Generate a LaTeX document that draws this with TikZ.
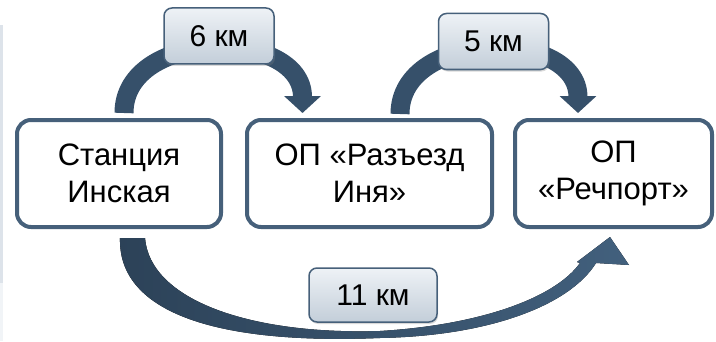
\documentclass[tikz,border=0pt]{standalone}
\usepackage{fontspec}
\setmainfont{Liberation Sans}
\usetikzlibrary{arrows.meta,calc,shadows}
\definecolor{boxline}{HTML}{46607A}
\definecolor{arrowdark}{HTML}{2C4258}
\definecolor{arrowmid}{HTML}{36506A}
\definecolor{arrowlight}{HTML}{42607D}
\definecolor{tagtop}{HTML}{EEF2F6}
\definecolor{tagbot}{HTML}{C3CED9}
\definecolor{stripgrey}{HTML}{DDE3EA}
\tikzset{
  station/.style={draw=boxline,line width=4pt,rounded corners=14pt,fill=white,
    align=center,inner sep=0pt,minimum height=107pt,font=\fontsize{31}{37}\selectfont},
  kmtag/.style={draw=boxline,line width=1.5pt,rounded corners=8pt,top color=tagtop,
    bottom color=tagbot,minimum width=110pt,minimum height=56pt,inner sep=0pt,
    font=\fontsize{30}{36}\selectfont,
    drop shadow={opacity=0.3,shadow xshift=1pt,shadow yshift=-2pt}},
  bigarrow/.style={draw=arrowmid,line width=19pt,-{Triangle[width=36pt,length=17pt]}}
}
\begin{document}
\begin{tikzpicture}[x=1pt,y=1pt]
\useasboundingbox (0,0) rectangle (716,341);
%left strip
\fill[stripgrey] (0,58) rectangle (3,316);
\fill[stripgrey!40] (0,0) rectangle (3,58);
%stations
\node[station,minimum width=204pt] (st1) at (119,167.5) {Станция\\Инская};
\node[station,minimum width=245pt] (st2) at (369.5,167.5) {ОП «Разъезд\\Иня»};
\node[station,minimum width=197pt] (st3) at (613.5,167.5) {ОП\\«Речпорт»};
%upper arrows
\draw[bigarrow] ([shift={(5,5)}]st1.north) .. controls +(0,85) and +(0,85) .. ([shift={(-67,5)}]st2.north);
\draw[bigarrow] ([shift={(30.5,4)}]st2.north) .. controls +(0,85) and +(0,85) .. ([shift={(-35.5,5)}]st3.north);
%lower arrow
\fill[left color=arrowdark,right color=arrowlight] ([shift={(1,-9)}]st1.south)
  .. controls (118,31) and (210,-4) .. (380,3)
  .. controls (490,5) and (570,36) .. (596,78) -- (629,76)
  -- ([shift={(-3.5,-8)}]st3.south) -- (577,79) -- (580,78)
  .. controls (555,43) and (480,16) .. (380,10)
  .. controls (250,6) and (150,41) .. ([shift={(26,-9)}]st1.south) -- cycle;
%distances
\node[kmtag] (d6) at (219,305) {6 км};
\node[kmtag] (d5) at (493.5,299.5) {5 км};
\node[kmtag,minimum width=128pt,minimum height=54pt] (d11) at (373,46) {11 км};
\end{tikzpicture}
\end{document}
